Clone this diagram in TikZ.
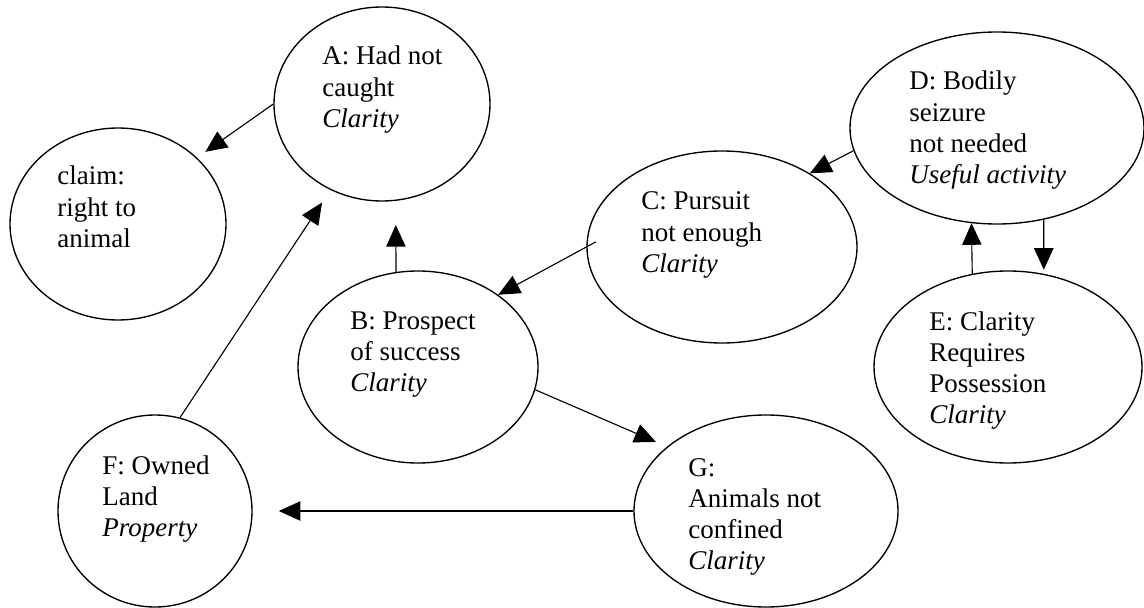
\documentclass[tikz,border=0pt]{standalone}
\usepackage{fontspec}
\setmainfont{Liberation Serif}
\usetikzlibrary{shapes.geometric,arrows.meta}
\def\PX{0.44444pt}
\begin{document}
\begin{tikzpicture}[x=0.44444pt, y=-0.44444pt,
  bub/.style={draw, ellipse, line width=0.6pt, inner sep=0pt},
  lab/.style={anchor=base west, inner sep=0pt, font=\fontsize{12}{13.8}\selectfont},
  con/.style={line width=0.5pt, -{Triangle[length=9.6pt,width=8.6pt]}}]
\useasboundingbox (0,0) rectangle (1144,608);

% ellipses
\node[bub, minimum width={216*\PX}, minimum height={192*\PX}] (claim) at (118,224) {};
\node[bub, minimum width={216*\PX}, minimum height={194*\PX}] (A) at (382,104) {};
\node[bub, minimum width={240*\PX}, minimum height={192*\PX}] (B) at (418,367) {};
\node[bub, minimum width={270*\PX}, minimum height={192*\PX}] (C) at (722,247) {};
\node[bub, minimum width={294*\PX}, minimum height={192*\PX}] (D) at (997,128) {};
\node[bub, minimum width={268*\PX}, minimum height={192*\PX}] (E) at (1008,367) {};
\node[bub, minimum width={194*\PX}, minimum height={192*\PX}] (F) at (155,511) {};
\node[bub, minimum width={264*\PX}, minimum height={192*\PX}] (G) at (766,511) {};

% texts
\node[lab] (claimT) at (57,185) {\begin{tabular}[t]{@{}l@{}}claim:\\right to\\animal\end{tabular}};
\node[lab] (AT) at (322,65) {\begin{tabular}[t]{@{}l@{}}A: Had not\\caught\\\textit{Clarity}\end{tabular}};
\node[lab] (BT) at (350,329) {\begin{tabular}[t]{@{}l@{}}B: Prospect\\of success\\\textit{Clarity}\end{tabular}};
\node[lab] (CT) at (641,210) {\begin{tabular}[t]{@{}l@{}}C: Pursuit\\not enough\\\textit{Clarity}\end{tabular}};
\node[lab] (DT) at (909,90) {\begin{tabular}[t]{@{}l@{}}D: Bodily\\seizure\\not needed\\\textit{Useful activity}\end{tabular}};
\node[lab] (ET) at (929,330) {\begin{tabular}[t]{@{}l@{}}E: Clarity\\Requires\\Possession\\\textit{Clarity}\end{tabular}};
\node[lab] (FT) at (102,474) {\begin{tabular}[t]{@{}l@{}}F: Owned\\Land\\\textit{Property}\end{tabular}};
\node[lab] (GT) at (688,476) {\begin{tabular}[t]{@{}l@{}}G:\\Animals not\\confined\\\textit{Clarity}\end{tabular}};

% connectors
\draw[con, shorten >=4.5pt] (A.180) -- (claim.40);
\draw[con, shorten >=10.7pt] (B.103.6) -- (A.-82.3);
\draw[con, shorten >=6.7pt] (F.75.8) -- (A.-121.5);
\draw[con, shorten <=-4.9pt] (C.180) -- (B.42.3);
\draw[con] (D.189.7) -- (C.40.9);
\draw[con] (E.111.8) -- (D.-105.4);
\draw[con, shorten >=1.8pt] (D.-63.2) -- (E.69.3);
\draw[con, shorten >=5.3pt] (B.-11.7) -- (G.147.3);
\draw[con, shorten >=11.6pt] (G.180) -- (F.0);
\end{tikzpicture}
\end{document}
